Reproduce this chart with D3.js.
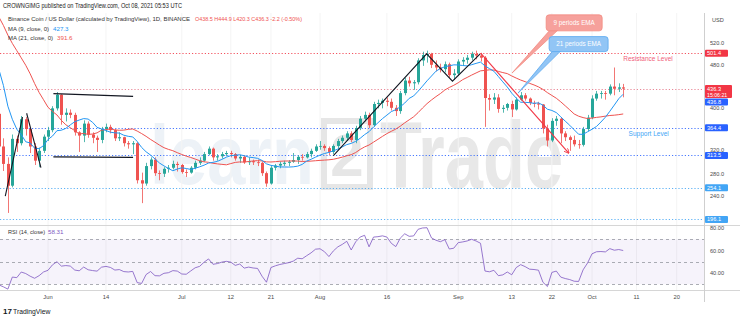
<!DOCTYPE html>
<html><head><meta charset="utf-8">
<script src="https://cdn.jsdelivr.net/npm/d3@7"></script>
<style>
body{margin:0;background:#fff}
svg{display:block;font-family:'Liberation Sans',Arial,sans-serif}
</style>
</head><body>
<svg id="c" width="740" height="321"></svg>
<script>
// ---------------- DATA ----------------
const startDate = [2021, 4, 1];          // first daily candle: 2021-05-01
const firstOpen = 610;
const closes = [
 620,628,665,615,660,645,660,680,665,630,650,560,560,600,560,500,470,480,350,390,330,
 298,258,344,336,380,362,330,304,322,348,
 360,400,425,388,392,388,356,350,372,352,346,342,362,366,360,345,347,336,334,336,268,262,294,306,281,280,289,291,298,296,
 283,282,291,300,304,316,326,310,312,316,318,316,308,311,301,303,301,300,281,262,291,295,298,300,302,305,311,310,316,322,330,
 331,327,320,331,340,346,354,342,364,381,388,369,408,410,414,412,401,395,428,451,446,448,488,498,500,480,475,472,481,461,464,
 486,489,493,500,497,493,419,416,420,399,401,408,398,416,424,418,410,409,407,363,341,377,381,354,347,342,334,333,362,383,
 418,427,428,427,440,436,438.5,436.3
];
const highs = [
 635,640,675,670,668,670,672,690,690,680,660,660,590,620,610,570,510,500,490,420,400,
 345,310,352,350,386,384,364,336,328,352,
 366,404,430,426,400,398,392,358,378,376,356,350,366,372,370,362,356,348,340,340,338,282,300,310,310,286,292,296,304,302,
 298,288,294,304,310,320,330,328,316,320,322,322,318,314,314,310,306,306,302,284,294,298,302,304,305,318,314,316,320,326,334,
 340,334,330,334,344,350,358,358,368,386,394,392,412,416,418,420,418,406,432,456,458,452,492,504,506,502,488,482,486,484,472,
 490,494,498,504,506,502,496,426,428,426,406,410,414,420,430,428,420,414,412,408,370,382,386,384,358,350,350,342,366,388,
 424,432,432,432,444,475,446,444.9
];
const lows = [
 600,610,620,600,610,630,640,650,640,600,615,550,500,550,550,470,440,460,250,330,300,
 285,208,255,320,332,350,318,296,292,318,
 340,356,396,370,376,382,350,320,338,346,336,320,336,356,354,340,340,330,326,316,262,226,258,288,276,268,274,282,288,284,
 280,274,280,288,296,302,314,304,304,308,312,310,304,300,298,296,296,294,276,256,260,286,290,294,294,300,298,304,308,310,320,
 324,322,314,316,324,336,340,338,336,360,376,364,366,400,400,404,396,386,390,424,440,434,444,478,484,474,468,466,466,456,452,
 460,478,482,488,490,486,366,396,408,392,392,396,384,396,414,414,406,402,398,354,330,338,368,336,340,322,330,326,330,358,
 380,414,418,416,424,424,430,420.3
];
const timeTickDates = ["2021-06-01","2021-06-14","2021-07-01","2021-07-12","2021-07-21","2021-08-01","2021-08-16","2021-09-01","2021-09-13","2021-09-22","2021-10-01","2021-10-11","2021-10-20"];
const timeTickLabels = ["Jun","14","Jul","12","21","Aug","16","Sep","13","22","Oct","11","20"];
const priceTicks = [520, 480, 400, 320, 280, 240];
const rsiTicks = [80, 60, 40];
const rsiBands = [70, 50, 30];
const levelValues = [501.4, 436.3, 364.4, 313.5, 254.1, 196.1];
const levelColors = ["#f23645", "#e57385", "#2962ff", "#2962ff", "#42a5f5", "#42a5f5"];
const axisLabelValues = [501.4, 436.3, 436.8, 364.4, 313.5, 254.1, 196.1];
const axisLabelTexts = ["501.4", "436.3", "436.8", "364.4", "313.5", "254.1", "196.1"];
const axisLabelColors = ["#f23645", "#f23645", "#2962ff", "#2962ff", "#2962ff", "#42a5f5", "#42a5f5"];
// annotations: [days since 2021-06-01, price]
const zigUp = [[-9.6, 239], [-5.7, 384]];
const zigDown = [[-4.8, 391], [-1.6, 291]];
const rangeTop = [[1.2, 427], [19.1, 422]];
const rangeBottom = [[1.2, 311], [19.1, 310]];
const trendPath = [[64, 313], [84.9, 500], [90.7, 450], [96.9, 500]];
const redArrow = [[97.1, 501], [116.8, 318]];
const redCallout = {box: [118, 557], tip: [104.1, 465], text: "9 periods EMA"};
const blueCallout = {box: [119, 518], tip: [105.4, 428], text: "21 periods EMA"};
const resistanceText = {at: [129, 487], text: "Resistance Level"};
const supportText = {at: [130.2, 349], text: "Support Level"};

// ---------------- SETUP ----------------
const svg = d3.select("#c");
const paneRight = 704, priceTop = 13, priceBottom = 225, rsiTop = 226, rsiBottom = 290;
const origin = new Date(2021, 5, 1);
const x = d3.scaleTime().domain([new Date(2021, 5, 1), new Date(2021, 9, 1)]).range([48, 592]);
const y = d3.scaleLinear().domain([240, 520]).range([195.5, 43]);
const yr = d3.scaleLinear().domain([40, 80]).range([273, 228]);
const xd = n => x(d3.timeHour.offset(origin, Math.round(n * 24)));
const start = new Date(startDate[0], startDate[1], startDate[2]);
const data = closes.map((c, i) => ({
  date: d3.timeDay.offset(start, i), o: i ? closes[i - 1] : firstOpen, h: highs[i], l: lows[i], c
}));
function sma(n) {
  return data.map((d, i) => i < n - 1 ? null : d3.mean(closes.slice(i - n + 1, i + 1)));
}
const ma9 = sma(9), ma21 = sma(21);
// RSI 14 (Wilder)
const rsi = new Array(closes.length).fill(null);
{
  let ag = 0, al = 0;
  for (let i = 1; i < closes.length; i++) {
    const ch = closes[i] - closes[i - 1];
    const g = Math.max(ch, 0), l = Math.max(-ch, 0);
    if (i <= 14) { ag += g / 14; al += l / 14; if (i === 14) rsi[i] = 100 - 100 / (1 + ag / al); }
    else { ag = (ag * 13 + g) / 14; al = (al * 13 + l) / 14; rsi[i] = 100 - 100 / (1 + ag / al); }
  }
}

const defs = svg.append("defs");
defs.append("clipPath").attr("id", "pc").append("rect").attr("x", 0).attr("y", priceTop).attr("width", paneRight).attr("height", priceBottom - priceTop);
defs.append("clipPath").attr("id", "rc").append("rect").attr("x", 0).attr("y", rsiTop).attr("width", paneRight).attr("height", rsiBottom - rsiTop);
defs.append("marker").attr("id", "ah").attr("viewBox", "0 0 10 10").attr("refX", 9).attr("refY", 5)
  .attr("markerWidth", 5).attr("markerHeight", 5).attr("orient", "auto")
  .append("path").attr("d", "M0,0 L10,5 L0,10").attr("fill", "none").attr("stroke", "#f23645").attr("stroke-width", 1.5);

svg.append("rect").attr("width", 740).attr("height", 321).attr("fill", "#fff");

// watermark
const wm = svg.append("g");
wm.append("g").attr("transform", "translate(150,184) scale(0.816,1)")
  .append("text").attr("x", 0).attr("y", 0).attr("font-size", 84).attr("font-weight", "bold").attr("fill", "#edf2f7").text("learn");
wm.append("rect").attr("x", 324).attr("y", 121).attr("width", 46).attr("height", 66).attr("fill", "none")
  .attr("stroke", "#e6e6e6").attr("stroke-width", 6);
wm.append("text").attr("x", 347).attr("y", 176).attr("text-anchor", "middle").attr("font-size", 60).attr("font-weight", "bold")
  .attr("fill", "#e6e6e6").text("2");
wm.append("g").attr("transform", "translate(380,188) scale(0.73,1)")
  .append("text").attr("x", 0).attr("y", 0).attr("font-size", 94).attr("font-weight", "bold").attr("fill", "#e8e8e8").text("Trade");

// vertical grid
const tickDates = timeTickDates.map(s => d3.timeParse("%Y-%m-%d")(s));
svg.append("g").selectAll("line").data(tickDates).join("line")
  .attr("x1", d => x(d)).attr("x2", d => x(d)).attr("y1", priceTop).attr("y2", rsiBottom)
  .attr("stroke", "#f4f4f4").attr("stroke-width", 1);

// separators / axis lines
svg.append("line").attr("x1", 0).attr("x2", 740).attr("y1", priceBottom + 0.5).attr("y2", priceBottom + 0.5).attr("stroke", "#d6d6d6");
svg.append("line").attr("x1", 0).attr("x2", 740).attr("y1", rsiBottom + 0.5).attr("y2", rsiBottom + 0.5).attr("stroke", "#d6d6d6");
svg.append("line").attr("x1", paneRight + 0.5).attr("x2", paneRight + 0.5).attr("y1", priceTop).attr("y2", 302).attr("stroke", "#cfcfcf");

// level lines
const pricePane = svg.append("g").attr("clip-path", "url(#pc)");
pricePane.selectAll("line.lv").data(levelValues).join("line").attr("class", "lv")
  .attr("x1", 0).attr("x2", paneRight).attr("y1", d => Math.round(y(d)) + 0.5).attr("y2", d => Math.round(y(d)) + 0.5)
  .attr("stroke", (d, i) => levelColors[i]).attr("stroke-width", 1).attr("stroke-dasharray", "1.2,2").attr("opacity", 0.85);

// candles
const bw = 3;
const cg = pricePane.append("g");
cg.selectAll("line").data(data).join("line")
  .attr("x1", d => Math.round(x(d.date)) + 0.5).attr("x2", d => Math.round(x(d.date)) + 0.5)
  .attr("y1", d => y(Math.max(d.h, d.o, d.c))).attr("y2", d => y(Math.min(d.l, d.o, d.c)))
  .attr("stroke", d => d.c >= d.o ? "#26a69a" : "#ef5350").attr("stroke-width", 0.8);
cg.selectAll("rect").data(data).join("rect")
  .attr("x", d => Math.round(x(d.date)) + 0.5 - bw / 2).attr("width", bw)
  .attr("y", d => y(Math.max(d.o, d.c))).attr("height", d => Math.max(0.8, Math.abs(y(d.o) - y(d.c))))
  .attr("fill", d => d.c >= d.o ? "#26a69a" : "#ef5350");

// MAs
const lineGen = arr => d3.line().defined((d, i) => arr[i] != null).x(d => x(d.date)).y((d, i) => y(arr[i]));
pricePane.append("path").datum(data).attr("d", lineGen(ma21)).attr("fill", "none").attr("stroke", "#ef5350").attr("stroke-width", 1);
pricePane.append("path").datum(data).attr("d", lineGen(ma9)).attr("fill", "none").attr("stroke", "#2196f3").attr("stroke-width", 1);

// annotations
const ptLine = d3.line().x(p => xd(p[0])).y(p => y(p[1]));
[zigUp, zigDown, rangeTop, rangeBottom, trendPath].forEach(p =>
  pricePane.append("path").attr("d", ptLine(p)).attr("fill", "none").attr("stroke", "#131722").attr("stroke-width", 1.1));
pricePane.append("path").attr("d", ptLine(redArrow)).attr("fill", "none").attr("stroke", "#f23645").attr("stroke-width", 1.1).attr("marker-end", "url(#ah)");

function callout(c, fill, stroke, w, h) {
  const cx = xd(c.box[0]), cy = y(c.box[1]);
  const tx = xd(c.tip[0]), ty = y(c.tip[1]);
  const bx = cx - w / 2, by = cy - h / 2;
  const g = svg.append("g");
  g.append("path").attr("d", `M${bx + 4},${by + h - 1} L${tx},${ty} L${bx + 12},${by + h - 1}Z`).attr("fill", fill).attr("stroke", stroke).attr("stroke-width", 0.8);
  g.append("rect").attr("x", bx).attr("y", by).attr("width", w).attr("height", h).attr("rx", 3).attr("fill", fill).attr("stroke", stroke).attr("stroke-width", 0.8);
  g.append("text").attr("x", cx).attr("y", cy + 2.2).attr("text-anchor", "middle").attr("font-size", 6.3).attr("fill", "#fff").text(c.text);
}
callout(redCallout, "#f6a19c", "#f28b82", 56, 16);
callout(blueCallout, "#92c5f5", "#5aaaf0", 59, 15);

svg.append("text").attr("x", xd(resistanceText.at[0])).attr("y", y(resistanceText.at[1])).attr("font-size", 6.5).attr("fill", "#f0607a").text(resistanceText.text);
svg.append("text").attr("x", xd(supportText.at[0])).attr("y", y(supportText.at[1])).attr("font-size", 6.5).attr("fill", "#42a5f5").text(supportText.text);

// RSI pane
const rp = svg.append("g").attr("clip-path", "url(#rc)");
rp.append("rect").attr("x", 0).attr("width", paneRight).attr("y", yr(70)).attr("height", yr(30) - yr(70)).attr("fill", "#7e57c2").attr("opacity", 0.07);
rp.selectAll("line").data(rsiBands).join("line").attr("x1", 0).attr("x2", paneRight)
  .attr("y1", d => Math.round(yr(d)) + 0.5).attr("y2", d => Math.round(yr(d)) + 0.5)
  .attr("stroke", "#9598a1").attr("stroke-width", 0.8).attr("stroke-dasharray", "3,3");
rp.append("path").datum(data).attr("d", d3.line().defined((d, i) => rsi[i] != null).x(d => x(d.date)).y((d, i) => yr(rsi[i])))
  .attr("fill", "none").attr("stroke", "#7e57c2").attr("stroke-width", 0.8);

// axis value labels with collision push
let lastBottom = -Infinity;
const boxes = [];
axisLabelValues.forEach((v, i) => {
  const two = axisLabelTexts[i] === "436.3";
  const h = two ? 13 : 7;
  let top = y(v) - 3.5;
  if (top < lastBottom + 0.5) top = lastBottom + 0.5;
  lastBottom = top + h;
  boxes.push([top, top + h]);
  const g = svg.append("g");
  g.append("rect").attr("x", 705).attr("y", top).attr("width", two ? 27 : 23).attr("height", h).attr("fill", axisLabelColors[i]).attr("rx", 1);
  g.append("text").attr("x", 707).attr("y", top + 5.5).attr("font-size", 5.6).attr("fill", "#fff").text(axisLabelTexts[i]);
  if (two) g.append("text").attr("x", 707).attr("y", top + 11.5).attr("font-size", 5.2).attr("fill", "#fff").text("15:06:21");
});

// price axis ticks (nudged clear of value labels)
const tickBase = v => {
  let b = y(v) + 2;
  boxes.forEach(([t, bt]) => { if (b > t && b - 4.5 < bt) b = (y(v) < (t + bt) / 2) ? t - 0.4 : bt + 4.6; });
  return b;
};
const axT = svg.append("g").attr("font-size", 5.6).attr("fill", "#4a4a4a");
axT.selectAll("text.pt").data(priceTicks).join("text").attr("class", "pt").attr("x", 710).attr("y", d => tickBase(d)).text(d => d.toFixed(1));
axT.selectAll("text.rt").data(rsiTicks).join("text").attr("class", "rt").attr("x", 710).attr("y", d => yr(d) + 2).text(d => d.toFixed(2));
axT.append("text").attr("x", 712).attr("y", 22).text("USD");

// time axis
svg.append("g").selectAll("text").data(tickDates).join("text")
  .attr("x", d => x(d)).attr("y", 298.5).attr("text-anchor", "middle").attr("font-size", 5.8).attr("fill", "#4a4a4a")
  .text((d, i) => timeTickLabels[i]);

// header texts
const hd = svg.append("g").attr("font-size", 6.2);
hd.append("text").attr("x", 3).attr("y", 8).attr("fill", "#222").attr("font-size", 6.4)
  .attr("textLength", 179).attr("lengthAdjust", "spacingAndGlyphs").text("CROWNGIMG published on TradingView.com, Oct 08, 2021 05:53 UTC");
hd.append("text").attr("x", 8).attr("y", 21).attr("fill", "#333").attr("textLength", 182).attr("lengthAdjust", "spacingAndGlyphs")
  .text("Binance Coin / US Dollar (calculated by TradingView), 1D, BINANCE");
hd.append("text").attr("x", 195).attr("y", 21).attr("fill", "#ef5350").attr("textLength", 107).attr("lengthAdjust", "spacingAndGlyphs")
  .text("O438.5 H444.9 L420.3 C436.3 -2.2 (-0.50%)");
hd.append("text").attr("x", 8).attr("y", 31).attr("fill", "#333").attr("textLength", 41).attr("lengthAdjust", "spacingAndGlyphs").text("MA (9, close, 0)");
hd.append("text").attr("x", 53).attr("y", 31).attr("fill", "#2196f3").text("427.3");
hd.append("text").attr("x", 8).attr("y", 40).attr("fill", "#333").attr("textLength", 45).attr("lengthAdjust", "spacingAndGlyphs").text("MA (21, close, 0)");
hd.append("text").attr("x", 57).attr("y", 40).attr("fill", "#ef5350").text("391.6");
hd.append("text").attr("x", 8).attr("y", 234).attr("fill", "#333").attr("textLength", 37).attr("lengthAdjust", "spacingAndGlyphs").text("RSI (14, close)");
hd.append("text").attr("x", 48).attr("y", 234).attr("fill", "#7e57c2").text("58.31");

// TradingView logo
const lg = svg.append("g");
lg.append("text").attr("x", 3).attr("y", 314).attr("font-size", 8).attr("font-weight", "bold").attr("fill", "#131722").text("17");
lg.append("text").attr("x", 13).attr("y", 314).attr("font-size", 6.8).attr("fill", "#131722").text("TradingView");
</script>
</body></html>
